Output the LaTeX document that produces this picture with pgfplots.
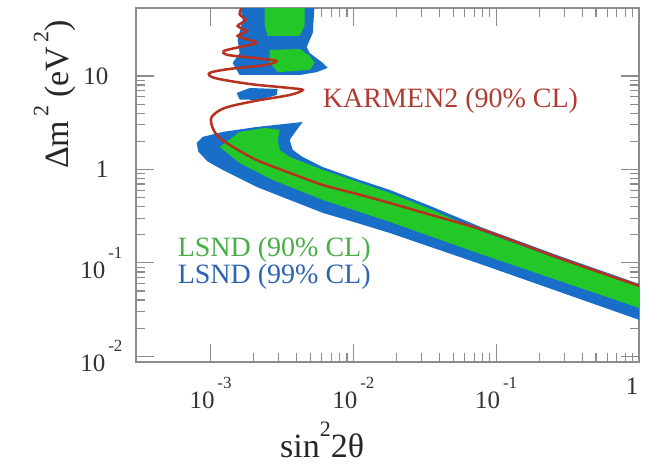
\documentclass[border=0pt]{standalone}
\usepackage{fontspec}
\setmainfont{Liberation Serif}
\usepackage{pgfplots}
\pgfplotsset{compat=1.18}
\definecolor{lsndblue}{RGB}{25,110,200}
\definecolor{lsndgreen}{RGB}{35,200,40}
\definecolor{karmen}{RGB}{180,50,30}
\definecolor{karmentext}{RGB}{175,60,50}
\definecolor{gtext}{RGB}{70,175,70}
\definecolor{btext}{RGB}{45,100,175}
\definecolor{axgray}{RGB}{140,140,140}
\newcommand{\tp}[1]{10\raisebox{0.8em}{\fontsize{17}{17}\selectfont\,#1}}
\newcommand{\sups}[1]{\raisebox{0.6em}{\fontsize{22}{22}\selectfont #1}}
\newcommand{\pad}[1]{#1\rule{14pt}{0pt}}
\begin{document}
\begin{tikzpicture}
\begin{axis}[name=ax, xmode=log, ymode=log, scale only axis, width=503pt, height=354pt,
 xmin=3e-4, xmax=1, ymin=0.0087, ymax=53.4,
 xtick={1e-3,1e-2,1e-1,1}, xticklabels={\tp{-3},\tp{-2},\tp{-1},\pad{1}},
 ytick={0.01,0.1,1,10}, yticklabels={\tp{-2},\tp{-1},\pad{1},\pad{10}},
 tick align=inside, major tick length=18pt, minor tick length=9pt,
 tick style={axgray, line width=1.2pt},
 axis line style={axgray, line width=1.5pt},
 ticklabel style={font=\fontsize{25}{25}\selectfont, text=black!80},
 xticklabel style={yshift=-12pt},
 yticklabel style={xshift=-10pt},
 /pgf/number format/assume math mode=true,
 xlabel={sin\sups{2}2θ},
 xlabel style={at={(axis description cs:0.37,-0.22)}, anchor=center, font=\fontsize{34}{34}\selectfont, text=black!85},
 ylabel={Δm\sups{\,2} (eV\sups{\,2})},
 ylabel style={at={(axis description cs:-0.161,0.755)}, anchor=center, font=\fontsize{34}{34}\selectfont, text=black!85},
 clip=true,
]
% LSND 99% CL (blue)
\addplot[fill=lsndblue, draw=none] coordinates {
(1.596e-3,60) (5.356e-3,60) (5.186e-3,28.8) (4.707e-3,20.4) (4.941e-3,17.6) (6.095e-3,13.8) (6.606e-3,12.2) (5.531e-3,11.0) (4.205e-3,10.25) (1.596e-3,10.25) (1.426e-3,13.8) (1.596e-3,17.6) (1.546e-3,24.3) (1.675e-3,39.7)
} -- cycle;
\addplot[fill=lsndblue, draw=none] coordinates {
(1.521e-3,6.58) (1.877e-3,7.44) (2.948e-3,7.26) (2.901e-3,6.26) (2.205e-3,5.54) (1.596e-3,5.6)
} -- cycle;
\addplot[fill=lsndblue, draw=none] coordinates {
(4.413e-3,3.22) (2.101e-3,2.85) (1.214e-3,2.52) (8.79e-4,2.23) (7.98e-4,1.92) (8.2e-4,1.55) (9.5e-4,1.22) (1.214e-3,0.988) (2.101e-3,0.650) (3.578e-3,0.472) (6.095e-3,0.343) (1.055e-2,0.268) (1.796e-2,0.209) (8.06e-2,0.0952) (1,0.0246) (1,0.0596) (0.279,0.118) (8.06e-2,0.237) (3.4e-2,0.41) (1.796e-2,0.604) (1.055e-2,0.790) (6.095e-3,1.06) (4.4e-3,1.36) (3.755e-3,1.62) (3.578e-3,2.07) (4.006e-3,2.65)
} -- cycle;
% LSND 90% CL (green)
\addplot[fill=lsndgreen, draw=none] coordinates {
(2.390e-3,60) (4.558e-3,60) (4.558e-3,35.1) (4.205e-3,26.8) (2.508e-3,26.8) (2.390e-3,35.1)
} -- cycle;
\addplot[fill=lsndgreen, draw=none] coordinates {
(2.590e-3,19.0) (4.205e-3,19.45) (4.941e-3,16.4) (5.356e-3,13.8) (4.941e-3,11.6) (2.948e-3,11.0) (2.590e-3,14.1)
} -- cycle;
\addplot[fill=lsndgreen, draw=none] coordinates {
(1.156e-3,1.74) (1.596e-3,2.52) (2.390e-3,2.78) (3.045e-3,2.65) (2.948e-3,2.07) (3.045e-3,1.62) (3.578e-3,1.36) (6.095e-3,0.988) (1.796e-2,0.561) (3.4e-2,0.38) (8.06e-2,0.215) (0.279,0.108) (1,0.0554) (1,0.0330) (8.06e-2,0.122) (1.796e-2,0.275) (6.095e-3,0.472) (2.719e-3,0.772) (1.596e-3,1.17)
} -- cycle;
% KARMEN2 90% CL
\addplot[karmen, line width=2.5pt, smooth, tension=0.5] coordinates {
(1.675e-3,57) (1.596e-3,46.0) (1.759e-3,39.7) (1.546e-3,34.3) (1.788e-3,30.3) (1.546e-3,26.8) (1.877e-3,24.3) (2.101e-3,22.5) (1.596e-3,20.4) (1.234e-3,18.5) (1.315e-3,16.8) (2.034e-3,15.6) (2.901e-3,14.5) (2.390e-3,13.1) (1.359e-3,11.9) (9.84e-4,10.8) (1.067e-3,9.52) (1.877e-3,8.21) (3.578e-3,7.44) (4.413e-3,7.09) (3.578e-3,6.26) (2.034e-3,5.40) (1.254e-3,4.55) (1.016e-3,3.64) (1.033e-3,2.78) (1.156e-3,2.17) (1.473e-3,1.70) (2.101e-3,1.26) (3.578e-3,0.918) (6.095e-3,0.683) (1.055e-2,0.547) (1.796e-2,0.438) (3.4e-2,0.33) (8.06e-2,0.225) (0.279,0.112) (1,0.0568)
};
\node[anchor=west, text=karmentext, font=\fontsize{28}{28}\selectfont, inner sep=0pt] at (axis cs:6.1e-3,5.4) {KARMEN2 (90\% CL)};
\node[anchor=west, text=gtext, font=\fontsize{28}{28}\selectfont, inner sep=0pt] at (axis cs:5.87e-4,0.138) {LSND (90\% CL)};
\node[anchor=west, text=btext, font=\fontsize{28}{28}\selectfont, inner sep=0pt] at (axis cs:5.87e-4,0.0708) {LSND (99\% CL)};
\end{axis}
\pgfresetboundingbox
\path[use as bounding box] (ax.south west) ++(-136pt,-103pt) rectangle ++(647pt,465pt);
\end{tikzpicture}
\end{document}
